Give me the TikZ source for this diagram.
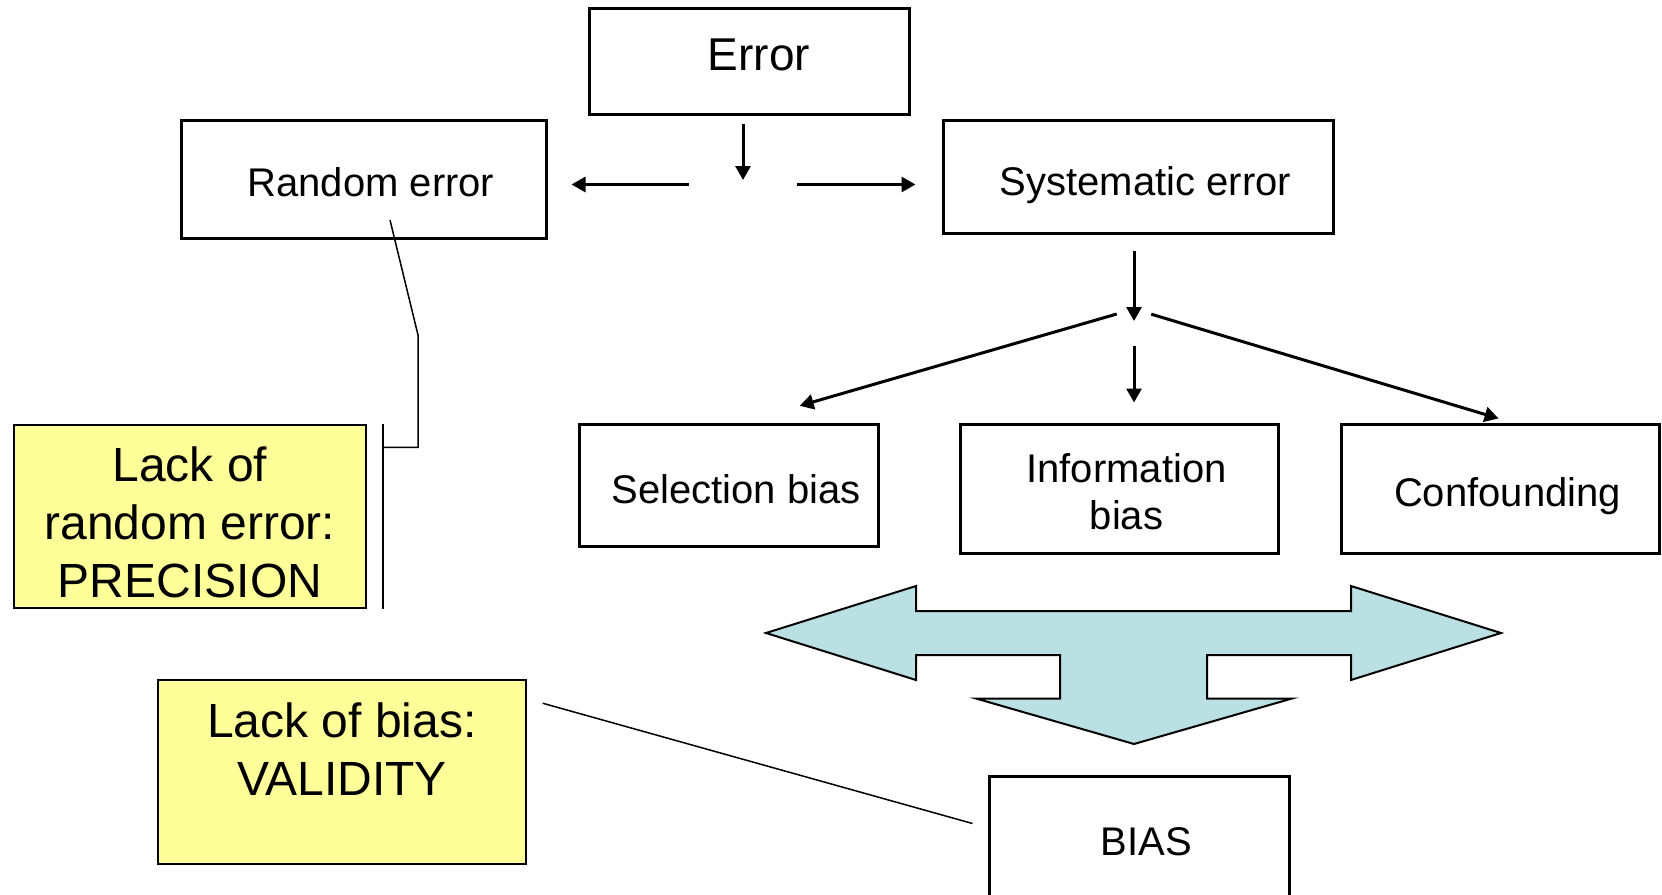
\documentclass[tikz,border=0pt]{standalone}
\usepackage{fontspec}
\setmainfont{Liberation Sans}
\usetikzlibrary{arrows.meta}
\definecolor{noteyellow}{HTML}{FFFF99}
\definecolor{arrowblue}{HTML}{BAE0E3}

\begin{document}
\begin{tikzpicture}[x=1pt, y=-1pt]
% Styles
\tikzstyle{box} = [rectangle, draw=black, line width=3pt, text centered, inner sep=0pt, align=center, font=\fontsize{40}{47}\selectfont]
\tikzstyle{single} = [box, text height=36pt, text depth=0pt, execute at begin node={\hspace*{15pt}}]
\tikzstyle{note} = [rectangle, draw=black, line width=1.5pt, fill=noteyellow, inner sep=0pt, align=center, font=\fontsize{48}{58}\selectfont]
\tikzstyle{arrow} = [line width=3pt, -{Triangle[length=14pt,width=15pt]}]
\tikzstyle{leader} = [line width=1.5pt]
\tikzstyle{bigarrow} = [draw=black, line width=2pt, fill=arrowblue, line join=miter]

\useasboundingbox (0,0) rectangle (1662,894);

% Nodes
\node (err) [single, minimum width=320pt, minimum height=106pt, font=\fontsize{46}{54}\selectfont, text height=33pt, text depth=16pt] at (749,61.5) {\hspace*{5pt}Error};
\node (rand) [single, minimum width=365pt, minimum height=118pt, text height=35pt] at (363.5,179) {Random error};
\node (sys) [single, minimum width=390pt, minimum height=113pt, text height=37.5pt] at (1138,176.5) {Systematic error};
\node (sel) [single, minimum width=299pt, minimum height=122pt, text height=37.5pt] at (728.5,485) {Selection bias};
\node (info) [box, minimum width=318pt, minimum height=129pt] at (1119,488.5) {\hspace*{15pt}\rule{0pt}{36pt}Information\\\hspace*{15pt}bias};
\node (conf) [single, minimum width=318pt, minimum height=129pt] at (1500,488.5) {Confounding};
\node (bias) [single, minimum width=300pt, minimum height=129pt, text height=29pt] at (1139,840.5) {BIAS};
\node (prec) [note, minimum width=352pt, minimum height=183pt] at (190,516.5) {\rule{0pt}{47pt}Lack of\\random error:\\PRECISION};
\node (valid) [note, minimum width=368pt, minimum height=184pt] at (342,772) {Lack of bias:\\VALIDITY\rule[-45pt]{0pt}{45pt}};

\coordinate (fork1) at (743,184.5);
\coordinate (fork2) at (1134,309);
\coordinate (bend) at (418,335);

% Arrows
\draw [arrow, shorten <=7.5pt, shorten >=4.5pt] (err.south -| fork1) -- (fork1);
\draw [arrow, shorten <=54pt, shorten >=24pt] (fork1) -- (rand.east |- fork1);
\draw [arrow, shorten <=54pt, shorten >=26pt] (fork1) -- (sys.west |- fork1);
\draw [arrow, shorten <=16pt] (sys.south -| fork2) -- ([yshift=-12pt]fork2);
\draw [arrow, shorten <=18pt, shorten >=60pt] (fork2) -- ([xshift=13.5pt]sel.north);
\draw [arrow, shorten <=36.5pt, shorten >=20pt] (fork2) -- (fork2 |- info.north);
\draw [arrow, shorten <=18pt, shorten >=14pt] (fork2) -- ([xshift=12pt]conf.north);

% Callout lines
\draw [leader] ([xshift=16pt]prec.north east) -- ([xshift=16pt]prec.south east);
\draw [leader] ([shift={(26.5,41)}]rand.center) -- (bend) |- ([shift={(16,23)}]prec.north east);
\draw [leader] ([shift={(16,24)}]valid.north east) -- ([shift={(-15,49)}]bias.north west);

% Big arrow
\draw [bigarrow] (766,633) -- (916,586) -- (916,611) -- (1351,611) -- (1351,586) -- (1501,633)
  -- (1351,680) -- (1351,655) -- (1207,655) -- (1207,698.5) -- (1292,698.5) -- (1134,744)
  -- (976,698.5) -- (1060,698.5) -- (1060,655) -- (916,655) -- (916,680) -- cycle;
\end{tikzpicture}
\end{document}
